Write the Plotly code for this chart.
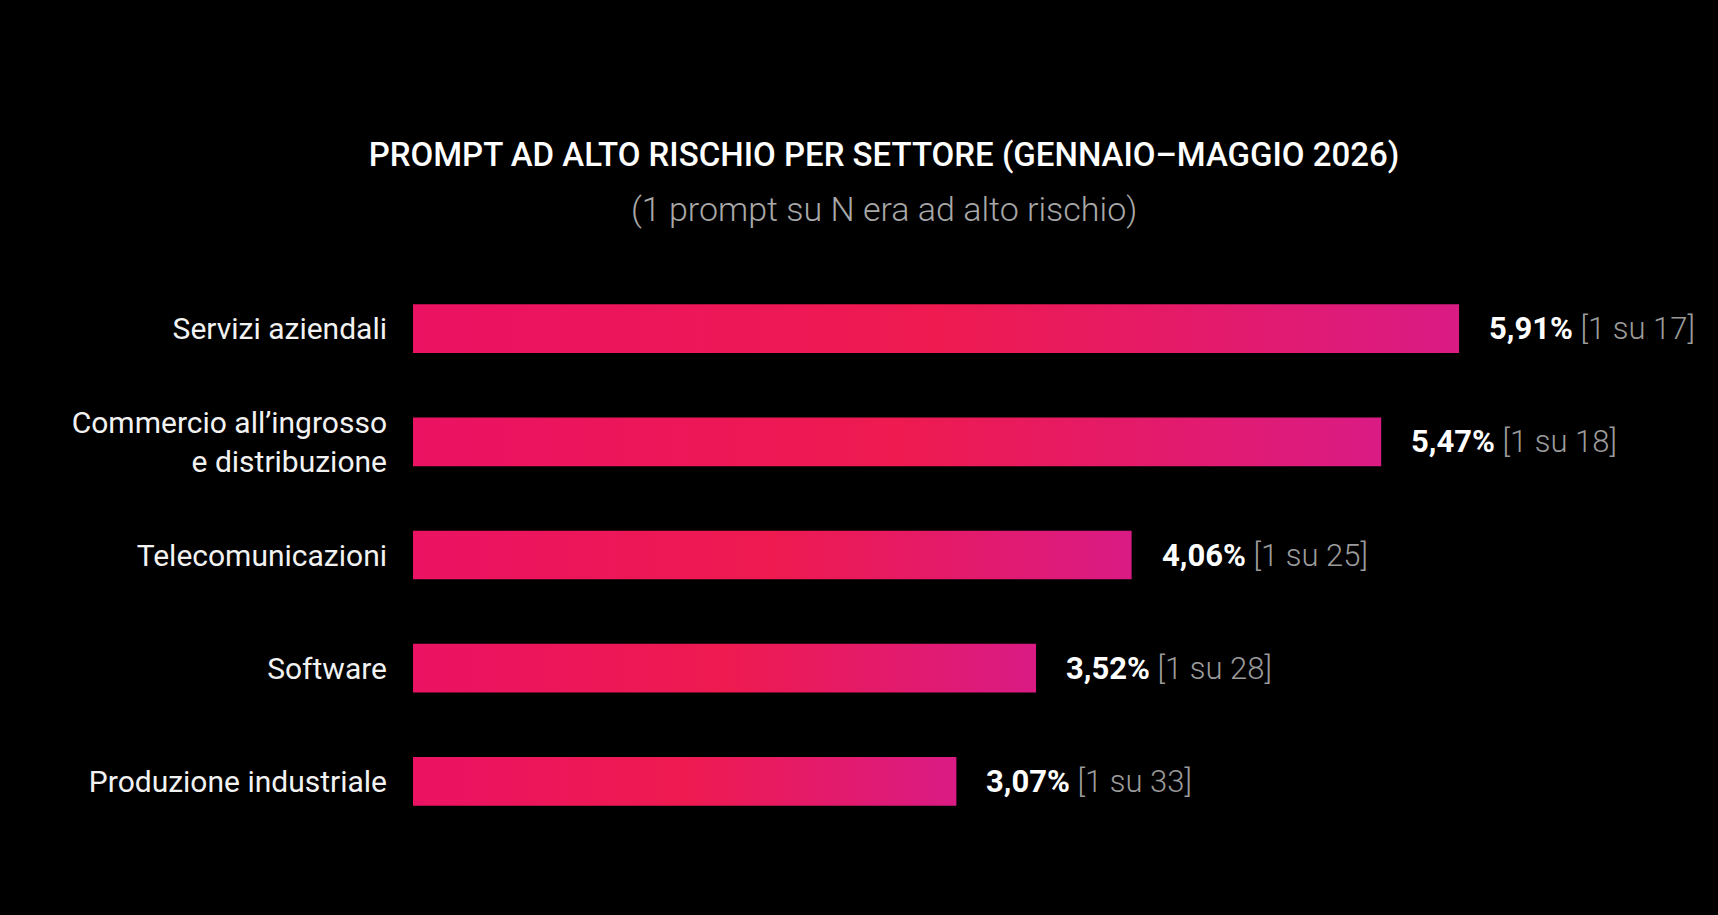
import plotly.graph_objects as go

# ---- data ----
categories = [
    "Servizi aziendali",
    "Commercio all’ingrosso<br>e distribuzione",
    "Telecomunicazioni",
    "Software",
    "Produzione industriale",
]
values = [5.91, 5.47, 4.06, 3.52, 3.07]
ratio_n = [17, 18, 25, 28, 33]

title_text = "PROMPT AD ALTO RISCHIO PER SETTORE (GENNAIO–MAGGIO 2026)"
subtitle_text = "(1 prompt su N era ad alto rischio)"

# ---- style ----
W, H = 1718, 915
ML, MR, MT, MB = 413, 66, 272, 77
FONT = "Roboto"
half = 0.215
grad = [[0.0, "#EB1263"], [0.5, "#EE1A50"], [1.0, "#DA1B84"]]

fig = go.Figure()
idx = list(range(len(categories)))
for i, v in zip(idx, values):
    fig.add_trace(go.Scatter(
        x=[0, v, v, 0, 0],
        y=[i - half, i - half, i + half, i + half, i - half],
        mode="lines",
        fill="toself",
        line=dict(width=0, color="rgba(0,0,0,0)"),
        fillgradient=dict(type="horizontal", colorscale=grad),
        hoverinfo="skip",
        showlegend=False,
    ))

annotations = []
for i, v, n in zip(idx, values, ratio_n):
    val = f"{v:.2f}".replace(".", ",") + "%"
    annotations.append(dict(
        x=v, y=i, xref="x", yref="y",
        xanchor="left", yanchor="middle", xshift=28, showarrow=False,
        text=f"<b>{val}</b> <span style='color:#9b9b9b;font-weight:300'>[1 su {n}]</span>",
        font=dict(family=FONT, size=31, color="#ffffff"),
    ))

plot_w = W - ML - MR
plot_h = H - MT - MB
annotations.append(dict(
    x=(884 - ML) / plot_w, y=(H - MB - 209) / plot_h, xref="paper", yref="paper",
    xanchor="center", yanchor="middle", showarrow=False,
    text=subtitle_text,
    font=dict(family=FONT, size=34, color="#a8a8a8", weight=300),
))

fig.update_layout(
    width=W, height=H,
    paper_bgcolor="#000000", plot_bgcolor="#000000",
    margin=dict(l=ML, r=MR, t=MT, b=MB),
    title=dict(
        text=title_text, x=884 / W, xref="container", xanchor="center",
        y=1 - 154 / H, yref="container", yanchor="middle",
        font=dict(family=FONT, size=33, color="#ffffff", weight=500),
    ),
    xaxis=dict(range=[0, 7.0], visible=False, fixedrange=True),
    yaxis=dict(
        range=[len(categories) - 0.5, -0.5],
        tickvals=idx, ticktext=categories,
        showgrid=False, zeroline=False, showline=False,
        ticks="", ticklabelstandoff=25,
        tickfont=dict(family=FONT, size=30, color="#f2f2f2"),
        fixedrange=True,
    ),
    annotations=annotations,
    showlegend=False,
)

fig.write_html(
    "out.html",
    config={"displayModeBar": False},
    post_script="document.body.style.margin='0';document.body.style.background='#000';"
                "document.documentElement.style.background='#000';",
)
